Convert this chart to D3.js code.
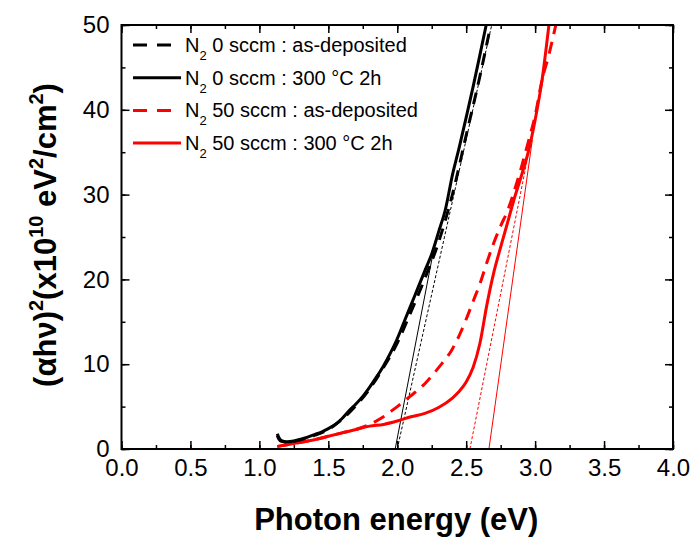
<!DOCTYPE html>
<html>
<head>
<meta charset="utf-8">
<script src="https://cdn.jsdelivr.net/npm/d3@7"></script>
<style>
  body { margin: 0; background: #fff; }
  text { font-family: "Liberation Sans", Arial, sans-serif; }
</style>
</head>
<body>
<script>
// ---- data ----
var xTicks = [0.0, 0.5, 1.0, 1.5, 2.0, 2.5, 3.0, 3.5, 4.0];
var yTicks = [0, 10, 20, 30, 40, 50];

// N2 0 sccm : 300 C 2h (black solid)
var blackSolidX = [1.13, 1.14, 1.16, 1.2, 1.25, 1.3, 1.35, 1.4, 1.45, 1.5, 1.55, 1.6, 1.65, 1.7, 1.75, 1.8, 1.85, 1.9, 1.95, 2.0, 2.05, 2.1, 2.15, 2.2, 2.25, 2.3, 2.35, 2.4, 2.45, 2.5, 2.55, 2.6, 2.645];
var blackSolidY = [1.8, 1.4, 1.0, 0.85, 0.95, 1.15, 1.4, 1.7, 2.0, 2.4, 2.9, 3.6, 4.5, 5.3, 6.2, 7.3, 8.5, 9.8, 11.3, 13.0, 15.0, 17.0, 19.0, 21.0, 23.0, 25.6, 28.3, 32.3, 35.6, 39.1, 42.7, 46.5, 50];

// N2 0 sccm : as-deposited (black dashed)
var blackDashX = [1.13, 1.14, 1.16, 1.2, 1.3, 1.4, 1.5, 1.6, 1.7, 1.8, 1.9, 2.0, 2.1, 2.2, 2.3, 2.4, 2.5, 2.6, 2.678];
var blackDashY = [1.6, 1.2, 0.9, 0.8, 1.1, 1.6, 2.3, 3.5, 5.1, 7.1, 9.6, 12.5, 16.2, 20.1, 24.4, 30.0, 37.0, 44.0, 50];

// N2 50 sccm : 300 C 2h (red solid)
var redSolidX = [1.13, 1.2, 1.3, 1.4, 1.5, 1.6, 1.7, 1.8, 1.9, 2.0, 2.1, 2.2, 2.3, 2.4, 2.45, 2.5, 2.55, 2.6, 2.65, 2.7, 2.75, 2.8, 2.85, 2.9, 2.95, 3.0, 3.05, 3.1];
var redSolidY = [0.3, 0.5, 0.8, 1.1, 1.5, 1.9, 2.3, 2.7, 2.9, 3.3, 3.8, 4.2, 4.9, 6.0, 6.8, 7.9, 9.6, 12.5, 17.0, 20.8, 23.8, 26.7, 29.6, 32.2, 35.0, 38.8, 43.5, 50];

// N2 50 sccm : as-deposited (red dashed)
var redDashX = [1.13, 1.2, 1.3, 1.4, 1.5, 1.6, 1.7, 1.8, 1.9, 2.0, 2.1, 2.2, 2.3, 2.4, 2.45, 2.5, 2.55, 2.6, 2.65, 2.7, 2.75, 2.8, 2.85, 2.9, 2.95, 3.0, 3.05, 3.1, 3.15];
var redDashY = [0.3, 0.5, 0.8, 1.1, 1.5, 1.9, 2.3, 2.9, 3.8, 5.0, 6.3, 7.7, 9.6, 11.8, 13.4, 15.3, 17.4, 19.5, 22.0, 24.3, 26.3, 28.1, 30.5, 33.2, 36.2, 39.3, 43.5, 46.5, 50];

// linear fits (thin lines)
var fitBlackSolidX = [1.985, 2.28], fitBlackSolidY = [0, 24.8];
var fitBlackDashX = [2.0, 2.685], fitBlackDashY = [0, 50];
var fitRedSolidX = [2.665, 2.98], fitRedSolidY = [0, 36.5];
var fitRedDashX = [2.527, 3.075], fitRedDashY = [0, 45];

var legendLabels = [
  ["0 sccm : as-deposited"],
  ["0 sccm : 300 \u00B0C 2h"],
  ["50 sccm : as-deposited"],
  ["50 sccm : 300 \u00B0C 2h"]
];

// ---- layout ----
var W = 692, H = 539;
var margin = {top: 25, right: 19, bottom: 90, left: 121.5};
var w = W - margin.left - margin.right,
    h = H - margin.top - margin.bottom;

var svg = d3.select("body").append("svg")
    .attr("width", W).attr("height", H);

var g = svg.append("g").attr("transform", "translate(" + margin.left + "," + margin.top + ")");

var x = d3.scaleLinear().domain([0, 4]).range([0, w]);
var y = d3.scaleLinear().domain([0, 50]).range([h, 0]);

function zip(xs, ys) { return xs.map(function(v, i) { return [v, ys[i]]; }); }

var line = d3.line().x(function(d) { return x(d[0]); }).y(function(d) { return y(d[1]); });

// clip
svg.append("defs").append("clipPath").attr("id", "clip")
  .append("rect").attr("width", w).attr("height", h);

var plot = g.append("g").attr("clip-path", "url(#clip)");

// thin fit lines
plot.append("path").datum(zip(fitBlackSolidX, fitBlackSolidY)).attr("d", line)
  .attr("fill", "none").attr("stroke", "#000").attr("stroke-width", 1);
plot.append("path").datum(zip(fitBlackDashX, fitBlackDashY)).attr("d", line)
  .attr("fill", "none").attr("stroke", "#000").attr("stroke-width", 1).attr("stroke-dasharray", "3,2");
plot.append("path").datum(zip(fitRedSolidX, fitRedSolidY)).attr("d", line)
  .attr("fill", "none").attr("stroke", "#ff0000").attr("stroke-width", 1);
plot.append("path").datum(zip(fitRedDashX, fitRedDashY)).attr("d", line)
  .attr("fill", "none").attr("stroke", "#ff0000").attr("stroke-width", 1).attr("stroke-dasharray", "3,2");

// curves
var curve = d3.line().curve(d3.curveMonotoneX)
  .x(function(d) { return x(d[0]); }).y(function(d) { return y(d[1]); });

plot.append("path").datum(zip(redDashX, redDashY)).attr("d", curve)
  .attr("fill", "none").attr("stroke", "#ff0000").attr("stroke-width", 3).attr("stroke-dasharray", "12,8");
plot.append("path").datum(zip(redSolidX, redSolidY)).attr("d", curve)
  .attr("fill", "none").attr("stroke", "#ff0000").attr("stroke-width", 3);
plot.append("path").datum(zip(blackDashX, blackDashY)).attr("d", curve)
  .attr("fill", "none").attr("stroke", "#000").attr("stroke-width", 3).attr("stroke-dasharray", "12,8");
plot.append("path").datum(zip(blackSolidX, blackSolidY)).attr("d", curve)
  .attr("fill", "none").attr("stroke", "#000").attr("stroke-width", 3);

// axes with inward ticks
var minorX = d3.range(0, 4.001, 0.25), minorY = d3.range(0, 50.001, 5);

function styleAxis(sel) {
  sel.select(".domain").remove();
  sel.selectAll("line").attr("stroke", "#000").attr("stroke-width", 1.5);
  sel.selectAll("text").attr("font-size", "24px").attr("fill", "#000");
}

g.append("g").attr("transform", "translate(0," + h + ")")
  .call(d3.axisBottom(x).tickValues(minorX).tickSize(-4).tickFormat("")).call(styleAxis);
g.append("g").attr("transform", "translate(0," + h + ")")
  .call(d3.axisBottom(x).tickValues(xTicks).tickSize(-8).tickPadding(10).tickFormat(d3.format(".1f"))).call(styleAxis);
g.append("g")
  .call(d3.axisTop(x).tickValues(minorX).tickSize(-4).tickFormat("")).call(styleAxis);
g.append("g")
  .call(d3.axisTop(x).tickValues(xTicks).tickSize(-8).tickFormat("")).call(styleAxis);

g.append("g")
  .call(d3.axisLeft(y).tickValues(minorY).tickSize(-4).tickFormat("")).call(styleAxis);
g.append("g")
  .call(d3.axisLeft(y).tickValues(yTicks).tickSize(-8).tickPadding(12).tickFormat(d3.format("d"))).call(styleAxis);
g.append("g").attr("transform", "translate(" + w + ",0)")
  .call(d3.axisRight(y).tickValues(minorY).tickSize(-4).tickFormat("")).call(styleAxis);
g.append("g").attr("transform", "translate(" + w + ",0)")
  .call(d3.axisRight(y).tickValues(yTicks).tickSize(-8).tickFormat("")).call(styleAxis);

// frame
g.append("rect").attr("width", w).attr("height", h)
  .attr("fill", "none").attr("stroke", "#000").attr("stroke-width", 2);

// legend
var legendStyles = [
  {color: "#000", dash: "14,10"},
  {color: "#000", dash: null},
  {color: "#ff0000", dash: "14,10"},
  {color: "#ff0000", dash: null}
];
var legend = svg.append("g");
legendLabels.forEach(function(lbl, i) {
  var cy = 45 + i * 32.7;
  legend.append("line")
    .attr("x1", 133).attr("x2", 181).attr("y1", cy).attr("y2", cy)
    .attr("stroke", legendStyles[i].color).attr("stroke-width", 3)
    .attr("stroke-dasharray", legendStyles[i].dash);
  var t = legend.append("text").attr("x", 185).attr("y", cy + 7)
    .attr("font-size", "20px").attr("fill", "#000");
  t.append("tspan").text("N");
  t.append("tspan").attr("dy", 8).attr("font-size", "13px").text("2");
  t.append("tspan").attr("dy", -8).text(" " + lbl[0]);
});

// axis titles
svg.append("text")
  .attr("x", margin.left + w / 2 - 1).attr("y", 530)
  .attr("text-anchor", "middle").attr("font-size", "31px").attr("font-weight", "bold")
  .text("Photon energy (eV)");

var yt = svg.append("text")
  .attr("transform", "translate(56,235) rotate(-90)")
  .attr("text-anchor", "middle").attr("font-size", "31px").attr("font-weight", "bold");
yt.append("tspan").text("(\u03B1h\u03BD)");
yt.append("tspan").attr("dy", -13).attr("font-size", "20px").text("2");
yt.append("tspan").attr("dy", 13).text("(x10");
yt.append("tspan").attr("dy", -13).attr("font-size", "20px").text("10");
yt.append("tspan").attr("dy", 13).text(" eV");
yt.append("tspan").attr("dy", -13).attr("font-size", "20px").text("2");
yt.append("tspan").attr("dy", 13).text("/cm");
yt.append("tspan").attr("dy", -13).attr("font-size", "20px").text("2");
yt.append("tspan").attr("dy", 13).text(")");
</script>
</body>
</html>
